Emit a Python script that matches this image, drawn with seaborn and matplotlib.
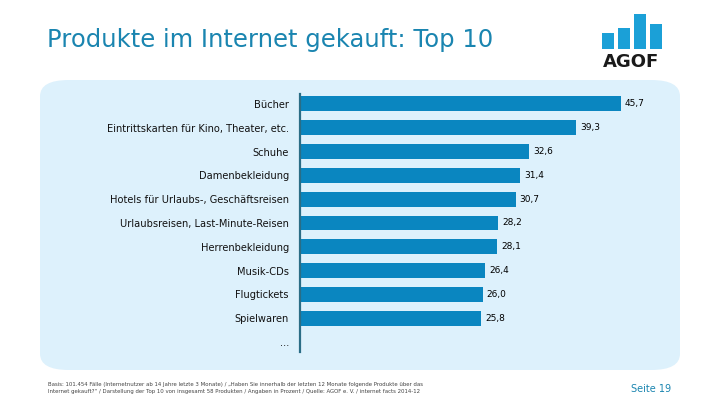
import pandas as pd
import seaborn as sns
import matplotlib.pyplot as plt
from matplotlib.patches import FancyBboxPatch, Rectangle

# data
produkte = [
    'Bücher',
    'Eintrittskarten für Kino, Theater, etc.',
    'Schuhe',
    'Damenbekleidung',
    'Hotels für Urlaubs-, Geschäftsreisen',
    'Urlaubsreisen, Last-Minute-Reisen',
    'Herrenbekleidung',
    'Musik-CDs',
    'Flugtickets',
    'Spielwaren',
]
anteil = [45.7, 39.3, 32.6, 31.4, 30.7, 28.2, 28.1, 26.4, 26.0, 25.8]

df = pd.DataFrame({'produkt': produkte, 'anteil': anteil})

W, H = 720, 405
fig = plt.figure(figsize=(7.2, 4.05), dpi=100)
fig.patch.set_facecolor('white')

def px(x0, y0, x1, y1):
    # pixel box (top-left origin) -> figure fraction rect
    return [x0 / W, 1 - y1 / H, (x1 - x0) / W, (y1 - y0) / H]

# light blue rounded panel
panel = FancyBboxPatch((40 / W, 1 - 370 / H), 640 / W, 290 / H,
                       boxstyle='round,pad=0,rounding_size=0.04',
                       transform=fig.transFigure, facecolor='#ddf1fc',
                       edgecolor='none', zorder=-5)
fig.patches.append(panel)

ax = fig.add_axes(px(300, 94, 651, 352))
ax.set_zorder(2)
ax.set_facecolor('none')
sns.barplot(data=df, x='anteil', y='produkt', orient='h', color='#0a86c0',
            width=0.63, saturation=1, ax=ax)
ax.set_xlim(0, 50)
ax.set_ylim(10.42, -0.42)
ax.set_yticks(range(11))
ax.set_yticklabels(produkte + ['...'], fontsize=7.1, color='#111111')
ax.tick_params(axis='y', length=0, pad=8)
ax.set_xticks([])
ax.set_xlabel('')
ax.set_ylabel('')
for s in ['top', 'right', 'bottom']:
    ax.spines[s].set_visible(False)
ax.spines['left'].set_color('#2a6d86')
ax.spines['left'].set_linewidth(1.6)

for i, v in enumerate(anteil):
    ax.text(v + 0.6, i, f'{v:.1f}'.replace('.', ','), va='center', ha='left',
            fontsize=6.5, color='black')

# title
fig.text(47 / W, 1 - 40 / H, 'Produkte im Internet gekauft: Top 10',
         fontsize=17.5, color='#1a85b0', va='center', ha='left')

# AGOF logo
logo_tops = [33, 28, 14, 24]
for k, top in enumerate(logo_tops):
    x0 = 602 + k * 16
    fig.patches.append(Rectangle((x0 / W, 1 - 49 / H), 12 / W, (49 - top) / H,
                                 transform=fig.transFigure,
                                 facecolor='#1ba0d7', edgecolor='none'))
fig.text(631 / W, 1 - 62 / H, 'AGOF', fontsize=13, fontweight='bold',
         color='#1a1a1a', ha='center', va='center')

# footnote
fig.text(48 / W, 1 - 388 / H,
         'Basis: 101.454 Fälle (Internetnutzer ab 14 Jahre letzte 3 Monate) / '
         '„Haben Sie innerhalb der letzten 12 Monate folgende Produkte über das\n'
         'Internet gekauft?“ / Darstellung der Top 10 von insgesamt 58 Produkten / '
         'Angaben in Prozent / Quelle: AGOF e. V. / internet facts 2014-12',
         fontsize=3.85, color='#444444', ha='left', va='center', linespacing=1.3)
fig.text(651 / W, 1 - 389 / H, 'Seite 19', fontsize=7, color='#1a85b0',
         ha='center', va='center')

fig.savefig('out.png', dpi=100)
